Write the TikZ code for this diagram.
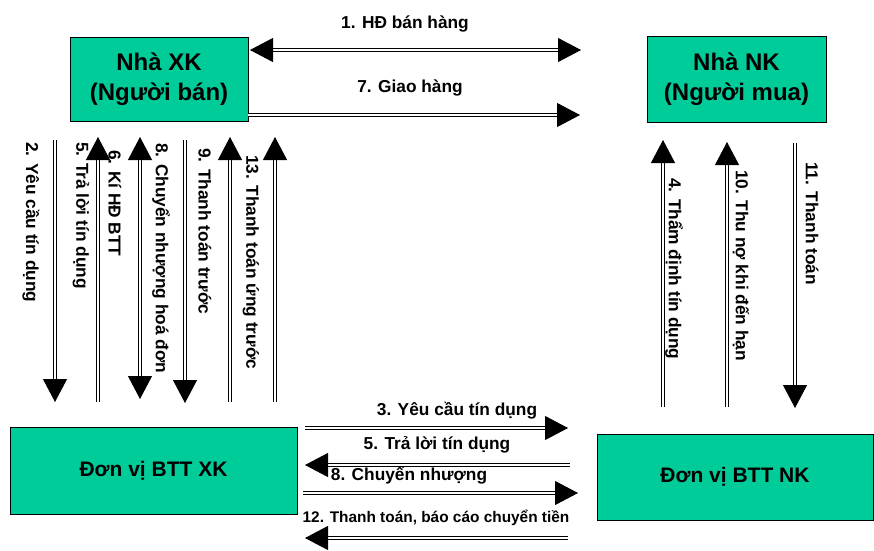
\documentclass[tikz,border=0pt]{standalone}
\usepackage{fontspec}
\setmainfont{Liberation Sans}
\usetikzlibrary{arrows.meta}
\definecolor{boxgreen}{RGB}{0,204,153}
\begin{document}
\begin{tikzpicture}[x=1pt,y=-1pt,
  box/.style={draw=black, line width=1pt, fill=boxgreen, align=center, inner sep=0pt,
    font=\fontsize{24}{30}\selectfont\bfseries},
  boxb/.style={box, font=\fontsize{21}{26}\selectfont\bfseries},
  lbl/.style={inner sep=0pt, font=\fontsize{17.3}{20}\selectfont\bfseries},
  lbls/.style={inner sep=0pt, font=\fontsize{15.4}{18}\selectfont\bfseries},
  vlbl/.style={lbl, rotate=-90, anchor=west},
  dbl/.style={double distance=2.2pt, line width=0.85pt, -{Triangle[length=23pt,width=24pt]}},
  dblb/.style={double distance=2.2pt, line width=0.85pt, {Triangle[length=23pt,width=24pt]}-{Triangle[length=23pt,width=24pt]}}
]
\useasboundingbox (0,0) rectangle (874,550);

% boxes
\node[box, minimum width=178pt, minimum height=84pt] (xk) at (159,79) {Nhà XK\\(Người bán)};
\node[box, minimum width=179pt, minimum height=86pt] (nk) at (736.5,79) {Nhà NK\\(Người mua)};
\node[boxb, minimum width=287pt, minimum height=87pt] (bxk) at (153.5,470.5) {Đơn vị BTT XK};
\node[boxb, minimum width=276pt, minimum height=86pt] (bnk) at (735,477) {Đơn vị BTT NK};

% coordinates
\coordinate (a1s) at (250,50);  \coordinate (a1e) at (581,50);
\coordinate (a7s) at (248,115); \coordinate (a7e) at (580,115);
\coordinate (v2s) at (55,140);  \coordinate (v2e) at (55,402);
\coordinate (v5s) at (98,402);  \coordinate (v5e) at (98,137);
\coordinate (v6s) at (140,137); \coordinate (v6e) at (140,399);
\coordinate (v9s) at (185,140); \coordinate (v9e) at (185,403);
\coordinate (vas) at (230,402); \coordinate (vae) at (230,137);
\coordinate (vbs) at (275,402); \coordinate (vbe) at (275,137);
\coordinate (v4s) at (663,407); \coordinate (v4e) at (663,140);
\coordinate (vts) at (727,407); \coordinate (vte) at (727,142);
\coordinate (v11s) at (795,143); \coordinate (v11e) at (795,408);
\coordinate (h3s) at (305,428); \coordinate (h3e) at (568,428);
\coordinate (h5s) at (570,465); \coordinate (h5e) at (305,465);
\coordinate (h8s) at (303,493); \coordinate (h8e) at (578,493);
\coordinate (h12s) at (568,538); \coordinate (h12e) at (305,538);

% arrows
\draw[dblb] (a1s) -- (a1e);
\draw[dbl] (a7s) -- (a7e);
\draw[dbl] (v2s) -- (v2e);
\draw[dbl] (v5s) -- (v5e);
\draw[dblb] (v6s) -- (v6e);
\draw[dbl] (v9s) -- (v9e);
\draw[dbl] (vas) -- (vae);
\draw[dbl] (vbs) -- (vbe);
\draw[dbl] (v4s) -- (v4e);
\draw[dbl] (vts) -- (vte);
\draw[dbl] (v11s) -- (v11e);
\draw[dbl] (h3s) -- (h3e);
\draw[dbl] (h5s) -- (h5e);
\draw[dbl] (h8s) -- (h8e);
\draw[dbl] (h12s) -- (h12e);

% horizontal labels
\node[lbl] (l1) at (405,24) {1. HĐ bán hàng};
\node[lbl] (l7) at (410,88) {7. Giao hàng};
\node[lbl] (l3) at (457,411) {3. Yêu cầu tín dụng};
\node[lbl] (l5b) at (437,445) {5. Trả lời tín dụng};
\node[lbl] (l8b) at (409,475) {8. Chuyển nhượng};
\node[lbls] (l12) at (436,518) {12. Thanh toán, báo cáo chuyển tiền};

% vertical labels
\node[vlbl] (l2) at (31,142) {2. Yêu cầu tín dụng};
\node[vlbl] (l5) at (81,142) {5. Trả lời tín dụng};
\node[vlbl] (l6) at (115,150) {6. Kí HĐ BTT};
\node[vlbl] (l8) at (161,143) {8. Chuyển nhượng hoá đơn};
\node[vlbl] (l9) at (205,148) {9. Thanh toán trước};
\node[vlbl] (l13) at (251,155) {13. Thanh toán ứng trước};
\node[vlbl] (l4) at (674,178) {4. Thẩm định tín dụng};
\node[vlbl] (l10) at (741,170) {10. Thu nợ khi đến hạn};
\node[vlbl] (l11) at (812,162) {11. Thanh toán};
\end{tikzpicture}
\end{document}
